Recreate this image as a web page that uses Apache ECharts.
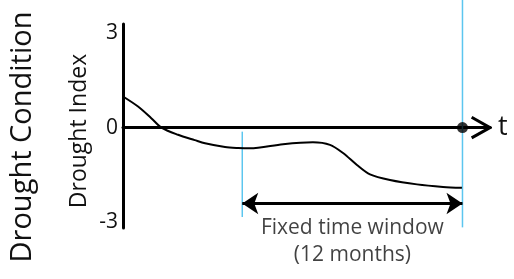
<!DOCTYPE html>
<html><head><meta charset="utf-8">
<script src="https://cdn.jsdelivr.net/npm/echarts@6/dist/echarts.min.js"></script>
<style>html,body{margin:0;padding:0;background:#fff}#c{width:514px;height:279px}</style>
</head><body><div id="c"></div>
<script>
// Drought index curve (time in months from axis start, index value)
const curveT = [0, 0.82, 1.54, 2.09, 3.0, 3.91, 4.47, 5.56, 6.27, 6.92, 8.72, 10.35, 11.28, 11.99, 12.75, 13.46, 14.55, 16.02, 17.44, 18.47];
const curveV = [0.99, 0.67, 0.30, 0, -0.23, -0.40, -0.50, -0.62, -0.65, -0.66, -0.53, -0.47, -0.55, -0.81, -1.19, -1.49, -1.67, -1.81, -1.89, -1.92];
const yTicks = [-3, 0, 3];
const windowStart = 6.5;   // start of the fixed time window
const windowEnd = 18.5;    // current time (end of window)
const windowLabel = ['Fixed time window', '(12 months)'];
const yName = 'Drought Index';
const mainTitle = 'Drought Condition';
const xName = 't';

const font = 'Open Sans';
const txt = '#111';
const blue = '#5cc6ef';
const chart = echarts.init(document.getElementById('c'));
chart.setOption({
  animation: false,
  grid: {left: 123, right: 24, top: 24, bottom: 51},
  xAxis: {
    type: 'value', min: 0, max: 20,
    axisLine: {show: true, onZero: true, lineStyle: {color: '#000', width: 3}},
    axisTick: {show: false}, axisLabel: {show: false}, splitLine: {show: false},
    name: xName, nameLocation: 'end', nameGap: 8,
    nameTextStyle: {fontFamily: font, fontSize: 27, color: txt, verticalAlign: 'middle', padding: [0,0,5,0]}
  },
  yAxis: {
    type: 'value', min: -3.2, max: 3.3,
    axisLine: {show: true, onZero: false, lineStyle: {color: '#000', width: 3}},
    axisTick: {show: false}, splitLine: {show: false},
    axisLabel: {show: true, customValues: yTicks, margin: 5, fontFamily: font, fontSize: 21, color: txt}
  },
  graphic: [
    {type: 'text', x: 23, y: 137, rotation: Math.PI/2,
     style: {text: mainTitle, fontFamily: font, fontSize: 29, fill: txt, align: 'center', verticalAlign: 'middle'}},
    {type: 'text', x: 79, y: 131, rotation: Math.PI/2,
     style: {text: yName, fontFamily: font, fontSize: 23, fill: txt, align: 'center', verticalAlign: 'middle'}}
  ],
  series: [
    {type: 'line', data: curveT.map((t, i) => [t, curveV[i]]), smooth: 0.3, showSymbol: false,
     lineStyle: {color: '#000', width: 2}, z: 5},
    {type: 'line', data: [[windowStart, -0.13], [windowStart, -2.85]], showSymbol: false, clip: false,
     lineStyle: {color: blue, width: 1.5}, z: 3},
    {type: 'line', data: [[windowEnd, 4.1], [windowEnd, -3.18]], showSymbol: false, clip: false,
     lineStyle: {color: blue, width: 1.5}, z: 3},
    {type: 'line', data: [[19.0, 0.33], [20, 0], [19.0, -0.33]], showSymbol: false, clip: false,
     lineStyle: {color: '#000', width: 3, join: 'miter'}, z: 6},
    {type: 'scatter', data: [[windowEnd, 0]], symbol: 'circle', symbolSize: 11, clip: false,
     itemStyle: {color: '#000'}, z: 7},
    {type: 'line', data: [[windowStart, -2.42], [windowEnd, -2.42]], showSymbol: false, clip: false,
     lineStyle: {width: 0}, z: 4,
     markLine: {silent: true, symbol: ['arrow', 'arrow'], symbolSize: [16, 16],
       lineStyle: {color: '#000', width: 3, type: 'solid'}, label: {show: false},
       data: [[{coord: [windowStart, -2.42]}, {coord: [windowEnd, -2.42]}]]}},
    {type: 'scatter', data: [[(windowStart + windowEnd) / 2, -3.64]], symbolSize: 0, clip: false,
     label: {show: true, position: 'inside', formatter: windowLabel.join('\n'),
       fontFamily: font, fontSize: 21, lineHeight: 27, color: txt, align: 'center'}}
  ]
});
</script></body></html>
